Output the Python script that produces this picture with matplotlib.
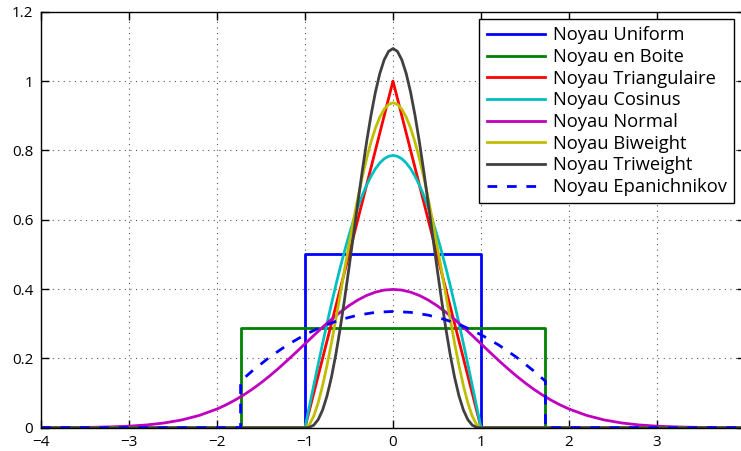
import matplotlib
matplotlib.use("Agg")
import matplotlib.pyplot as plt

# ---- data ----
uniform_x = [-4, -1, -1, 1, 1, 4]
uniform_y = [0, 0, 0.5, 0.5, 0, 0]

box_x = [-4, -1.732, -1.732, 1.732, 1.732, 4]
box_y = [0, 0, 0.2887, 0.2887, 0, 0]

tri_x = [-4, -1, 0, 1, 4]
tri_y = [0, 0, 1.0, 0, 0]

core_x = [-4, -1.0, -0.95, -0.9, -0.85, -0.8, -0.75, -0.7, -0.65, -0.6, -0.55, -0.5,
          -0.45, -0.4, -0.35, -0.3, -0.25, -0.2, -0.15, -0.1, -0.05, 0.0,
          0.05, 0.1, 0.15, 0.2, 0.25, 0.3, 0.35, 0.4, 0.45, 0.5,
          0.55, 0.6, 0.65, 0.7, 0.75, 0.8, 0.85, 0.9, 0.95, 1.0, 4]
cos_y = [0, 0, 0.0616, 0.1229, 0.1834, 0.2427, 0.3006, 0.3566, 0.4104, 0.4617, 0.5101, 0.5554,
         0.5972, 0.6354, 0.6697, 0.6998, 0.7256, 0.7470, 0.7637, 0.7757, 0.7830, 0.7854,
         0.7830, 0.7757, 0.7637, 0.7470, 0.7256, 0.6998, 0.6697, 0.6354, 0.5972, 0.5554,
         0.5101, 0.4617, 0.4104, 0.3566, 0.3006, 0.2427, 0.1834, 0.1229, 0.0616, 0, 0]
biw_y = [0, 0, 0.0089, 0.0338, 0.0722, 0.1215, 0.1794, 0.2438, 0.3127, 0.3840, 0.4561, 0.5273,
         0.5963, 0.6615, 0.7219, 0.7763, 0.8240, 0.8640, 0.8958, 0.9188, 0.9328, 0.9375,
         0.9328, 0.9188, 0.8958, 0.8640, 0.8240, 0.7763, 0.7219, 0.6615, 0.5963, 0.5273,
         0.4561, 0.3840, 0.3127, 0.2438, 0.1794, 0.1215, 0.0722, 0.0338, 0.0089, 0, 0]
triw_y = [0, 0, 0.0010, 0.0075, 0.0234, 0.0510, 0.0916, 0.1451, 0.2107, 0.2867, 0.3712, 0.4614,
          0.5548, 0.6483, 0.7390, 0.8242, 0.9012, 0.9677, 1.0216, 1.0613, 1.0856, 1.0938,
          1.0856, 1.0613, 1.0216, 0.9677, 0.9012, 0.8242, 0.7390, 0.6483, 0.5548, 0.4614,
          0.3712, 0.2867, 0.2107, 0.1451, 0.0916, 0.0510, 0.0234, 0.0075, 0.0010, 0, 0]

norm_x = [-4.0, -3.8, -3.6, -3.4, -3.2, -3.0, -2.8, -2.6, -2.4, -2.2, -2.0, -1.9, -1.8, -1.7,
          -1.6, -1.5, -1.4, -1.3, -1.2, -1.1, -1.0, -0.9, -0.8, -0.7, -0.6, -0.5, -0.4, -0.3,
          -0.2, -0.1, 0.0, 0.1, 0.2, 0.3, 0.4, 0.5, 0.6, 0.7, 0.8, 0.9, 1.0, 1.1, 1.2, 1.3,
          1.4, 1.5, 1.6, 1.7, 1.8, 1.9, 2.0, 2.2, 2.4, 2.6, 2.8, 3.0, 3.2, 3.4, 3.6, 3.8, 4.0]
norm_y = [0.0001, 0.0003, 0.0006, 0.0012, 0.0024, 0.0044, 0.0079, 0.0136, 0.0224, 0.0355,
          0.0540, 0.0656, 0.0790, 0.0940, 0.1109, 0.1295, 0.1497, 0.1714, 0.1942, 0.2179,
          0.2420, 0.2661, 0.2897, 0.3123, 0.3332, 0.3521, 0.3683, 0.3814, 0.3910, 0.3970,
          0.3989, 0.3970, 0.3910, 0.3814, 0.3683, 0.3521, 0.3332, 0.3123, 0.2897, 0.2661,
          0.2420, 0.2179, 0.1942, 0.1714, 0.1497, 0.1295, 0.1109, 0.0940, 0.0790, 0.0656,
          0.0540, 0.0355, 0.0224, 0.0136, 0.0079, 0.0044, 0.0024, 0.0012, 0.0006, 0.0003, 0.0001]

epa_x = [-4, -1.732, -1.732, -1.6, -1.4, -1.2, -1.0, -0.8, -0.6, -0.4, -0.2, 0.0,
         0.2, 0.4, 0.6, 0.8, 1.0, 1.2, 1.4, 1.6, 1.732, 1.732, 4]
epa_y = [0, 0, 0.1342, 0.1637, 0.2039, 0.2388, 0.2683, 0.2925, 0.3113, 0.3247, 0.3327, 0.3354,
         0.3327, 0.3247, 0.3113, 0.2925, 0.2683, 0.2388, 0.2039, 0.1637, 0.1342, 0, 0]

labels = ["Noyau Uniform", "Noyau en Boite", "Noyau Triangulaire", "Noyau Cosinus",
          "Noyau Normal", "Noyau Biweight", "Noyau Triweight", "Noyau Epanichnikov"]
xticks = [-4, -3, -2, -1, 0, 1, 2, 3, 4]
yticks = [0, 0.2, 0.4, 0.6, 0.8, 1.0, 1.2]
ytick_labels = ["0", "0.2", "0.4", "0.6", "0.8", "1", "1.2"]

plt.rcParams['font.family'] = ['Open Sans', 'DejaVu Sans']

fig = plt.figure(figsize=(7.41, 4.51), dpi=100)
ax = fig.add_axes([41 / 741, (451 - 427.7) / 451, 704 / 741, 416 / 451])

lw = 2.0
ax.plot(uniform_x, uniform_y, color='#0000ff', lw=lw, label=labels[0])
ax.plot(box_x, box_y, color='#008000', lw=lw, label=labels[1])
ax.plot(tri_x, tri_y, color='#ff0000', lw=lw, label=labels[2])
ax.plot(core_x, cos_y, color='#00bfbf', lw=lw, label=labels[3])
ax.plot(norm_x, norm_y, color='#bf00bf', lw=lw, label=labels[4])
ax.plot(core_x, biw_y, color='#bfbf00', lw=lw, label=labels[5])
ax.plot(core_x, triw_y, color='#404040', lw=lw, label=labels[6])
ax.plot(epa_x, epa_y, color='#0000ff', lw=lw, ls=(0, (3.5, 3.5)), label=labels[7])

ax.set_xlim(-4, 4)
ax.set_ylim(0, 1.2)
ax.set_xticks(xticks)
ax.set_xticklabels([f"{t}".replace("-", "\u2212") for t in xticks])
ax.set_yticks(yticks)
ax.set_yticklabels(ytick_labels)
ax.tick_params(direction='in', top=True, right=True, length=6, width=1,
               labelsize=11, pad=5.5)
ax.grid(True, ls=(0, (1, 4)), color='#555555', lw=0.8)
for s in ax.spines.values():
    s.set_linewidth(1.0)

leg = ax.legend(loc='upper right', bbox_to_anchor=(734 / 741, 1 - 19 / 451),
                bbox_transform=fig.transFigure, fontsize=13.2, frameon=True,
                fancybox=False, framealpha=1, edgecolor='black',
                handlelength=3.2, handletextpad=0.4, labelspacing=0.2,
                borderpad=0.4, borderaxespad=0)
leg.get_frame().set_linewidth(1.0)

fig.savefig("out.png", dpi=100)
